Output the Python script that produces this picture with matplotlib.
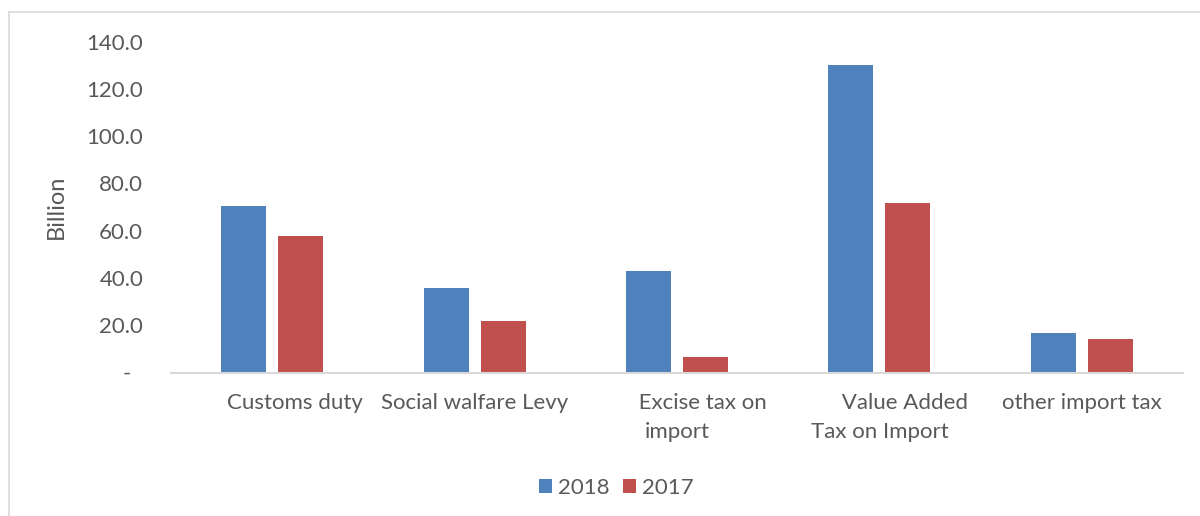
import matplotlib.pyplot as plt
import matplotlib.lines as mlines
import numpy as np

plt.rcParams['font.family'] = ['Lato', 'DejaVu Sans']

# import tax collections, billion
categories = ["        Customs duty", "Social walfare Levy",
              "         Excise tax on\nimport",
              "         Value Added\nTax on Import", "other import tax"]
y2018 = [70.4, 35.9, 42.9, 130.1, 16.6]
y2017 = [57.7, 21.8, 6.7, 71.6, 14.0]
yticks = [0, 20, 40, 60, 80, 100, 120, 140]

blue = "#4F81BD"
red = "#C0504D"
grey = "#595959"

fig = plt.figure(figsize=(12, 5.16), dpi=100)
ax = fig.add_axes([171/1200, 1-372.5/516, 1012/1200, (372.5-41.7)/516])

x = np.arange(len(categories))
w = 0.222
off = 0.1405
ax.bar(x - off, y2018, w, color=blue, label="2018")
ax.bar(x + off, y2017, w, color=red, label="2017")

ax.set_xlim(-0.5, len(categories) - 0.5)
ax.set_ylim(0, 140)
ax.set_yticks(yticks)
ax.set_yticklabels(["-  " if v == 0 else "%.1f" % v for v in yticks])
ax.set_xticks(x)
ax.set_xticklabels(categories, linespacing=1.55)

ax.tick_params(axis='both', length=0, labelsize=16, labelcolor=grey)
ax.tick_params(axis='y', pad=20)
ax.tick_params(axis='x', pad=15)
for s in ['top', 'right', 'left']:
    ax.spines[s].set_visible(False)
ax.spines['bottom'].set_color("#D9D9D9")
ax.spines['bottom'].set_linewidth(1.5)

ax.set_ylabel("Billion", fontsize=17, color=grey, labelpad=14)

fig.legend(loc='center', bbox_to_anchor=(616/1200, 1-488/516), ncol=2,
           frameon=False, fontsize=16, labelcolor=grey,
           handlelength=0.6, handleheight=0.6, handletextpad=0.25,
           columnspacing=0.6)

# chart frame edges
fig.add_artist(mlines.Line2D([8.5/1200, 8.5/1200], [0, 1-12/516],
                             color="#D9D9D9", lw=1.2))
fig.add_artist(mlines.Line2D([8.5/1200, 1], [1-12/516, 1-12/516],
                             color="#D9D9D9", lw=1.2))

fig.savefig("out.png", dpi=100)
